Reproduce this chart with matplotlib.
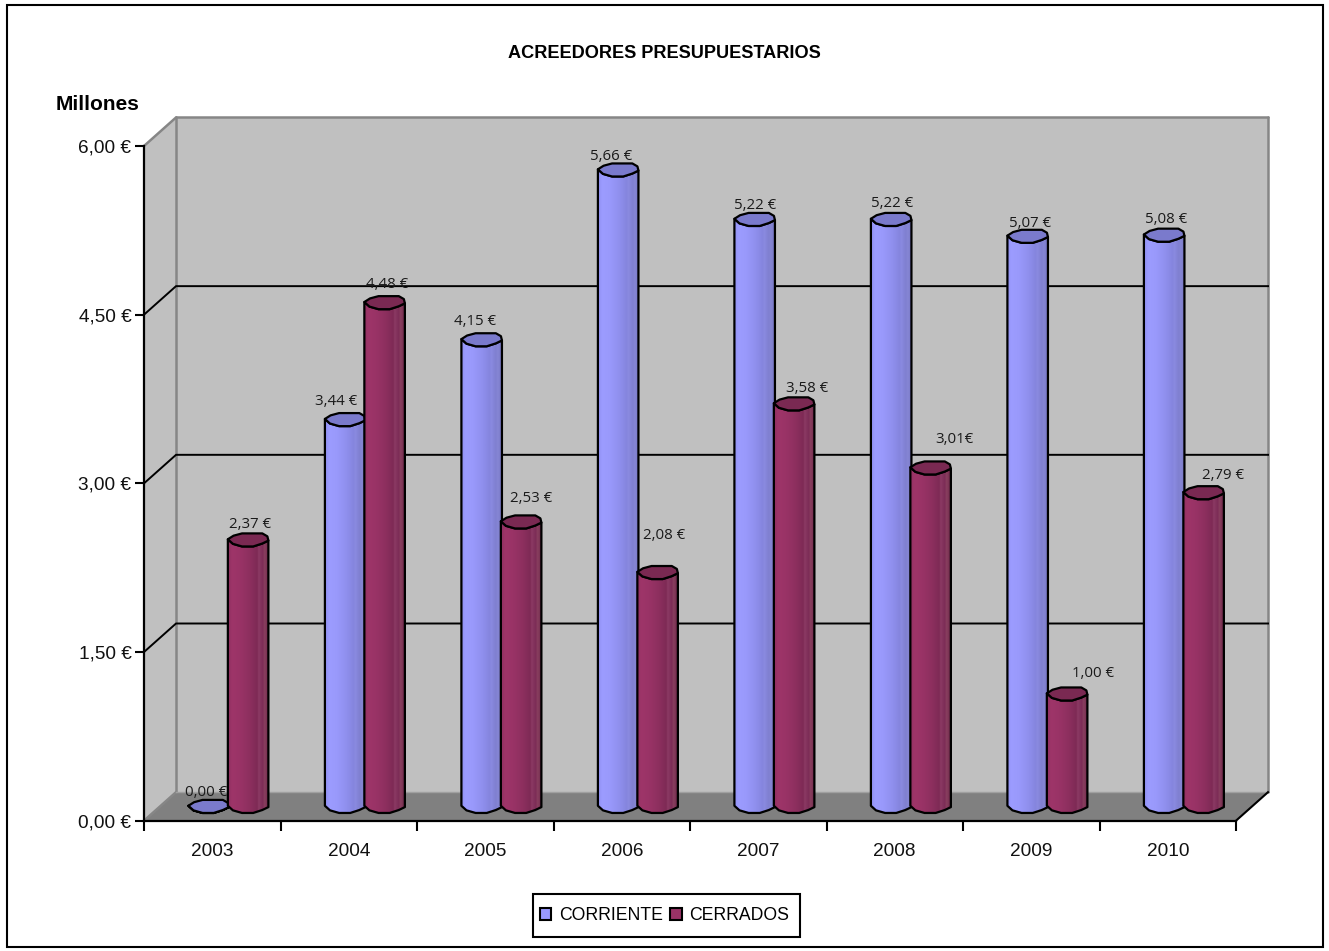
import numpy as np
import matplotlib
matplotlib.use("Agg")
import matplotlib.pyplot as plt
from matplotlib.colors import LinearSegmentedColormap
from matplotlib.patches import Polygon, Patch, Rectangle

years = ["2003", "2004", "2005", "2006", "2007", "2008", "2009", "2010"]
corriente = [0.00, 3.44, 4.15, 5.66, 5.22, 5.22, 5.07, 5.08]
cerrados = [2.37, 4.48, 2.53, 2.08, 3.58, 3.01, 1.00, 2.79]
corriente_labels = ["0,00 €", "3,44 €", "4,15 €", "5,66 €", "5,22 €", "5,22 €", "5,07 €", "5,08 €"]
cerrados_labels = ["2,37 €", "4,48 €", "2,53 €", "2,08 €", "3,58 €", "3,01€", "1,00 €", "2,79 €"]
y_ticks = [0, 1.5, 3, 4.5, 6]
y_tick_labels = ["0,00 €", "1,50 €", "3,00 €", "4,50 €", "6,00 €"]

# label offsets from the bar top, pixels (dx, up)
corriente_off = [(-2, 14), (-8, 18), (-6, 18), (-6, 13), (1, 14), (2, 16), (3, 13), (3, 16)]
cerrados_off = [(2, 15), (2, 18), (10, 23), (6, 37), (13, 15), (23, 28), (26, 20), (19, 17)]

W, H = 1329, 951
plt.rcParams["font.family"] = ["Liberation Sans", "DejaVu Sans"]
fig = plt.figure(figsize=(W / 100, H / 100), dpi=100, facecolor="white")
ax = fig.add_axes([144 / W, 1 - 820.7 / H, (1236 - 144) / W, (820.7 - 146) / H])
n = len(years)
DX, DY = 0.2346, 0.2537      # depth of the 3D box, data units
BW, CAP = 0.297, 0.116       # bar width, cap height
ax.set_xlim(0, n)
ax.set_ylim(0, 6)
ax.patch.set_visible(False)

WALL, FLOOR, EDGE = "#C0C0C0", "#808080", "#868686"
ax.add_patch(Polygon([(DX, DY), (n + DX, DY), (n + DX, 6 + DY), (DX, 6 + DY)], fc=WALL, ec="none", clip_on=False, zorder=0))
ax.add_patch(Polygon([(0, 0), (DX, DY), (DX, 6 + DY), (0, 6)], fc=WALL, ec="none", clip_on=False, zorder=0))
ax.add_patch(Polygon([(0, 0), (n, 0), (n + DX, DY), (DX, DY)], fc=FLOOR, ec="none", clip_on=False, zorder=0))
lw = 1.8
for xs, ys in [([0, DX], [6, 6 + DY]), ([DX, n + DX], [6 + DY, 6 + DY]), ([n + DX, n + DX], [6 + DY, DY]),
               ([DX, DX], [DY, 6 + DY]), ([0, DX], [0, DY])]:
    ax.plot(xs, ys, color=EDGE, lw=lw, clip_on=False, zorder=1, solid_capstyle="round")
ax.plot([DX, n + DX], [DY, DY], color="#A0A0A0", lw=1, clip_on=False, zorder=1)
ax.plot([n, n + DX], [0, DY], color="black", lw=1.5, clip_on=False, zorder=1.5)
for v in y_ticks[1:-1]:
    ax.plot([0, DX, n + DX], [v, v + DY, v + DY], color="black", lw=1.4, clip_on=False, zorder=1)

cmap_blue = LinearSegmentedColormap.from_list("b", [
    (0, "#9090F0"), (0.1, "#9C9CFF"), (0.3, "#9999FB"), (0.55, "#8E8EEC"), (0.7, "#8585DE"),
    (0.75, "#8A8AE0"), (0.85, "#7F7FD0"), (0.9, "#8686D4"), (1, "#7676C4")])
cmap_red = LinearSegmentedColormap.from_list("r", [
    (0, "#8F3060"), (0.1, "#9E3569"), (0.3, "#993366"), (0.55, "#8C2F5E"), (0.72, "#7E2A55"),
    (0.75, "#8C3A64"), (0.85, "#7C2C56"), (0.9, "#89405F"), (1, "#6C2448")])

# coarse rim of a cylinder as in the low-resolution source: unit coordinates
RIM_BACK = [(-0.72, 0.65), (-0.3, 1.0), (0.7, 1.0), (0.95, 0.55)]
RIM_FRONT = [(-1.0, 0.1), (-0.75, -0.6), (-0.3, -1.0), (0.25, -1.0), (0.7, -0.55), (1.0, -0.1)]

def rim(points, xc, yc):
    return np.array([(xc + px * BW / 2, yc + py * CAP / 2) for px, py in points])

def draw_bar(xc, value, cmap, capcolor, z):
    y0 = DY / 2
    y1 = y0 + value
    half = BW / 2
    body = Polygon(np.vstack([rim(RIM_FRONT, xc, y1), rim(RIM_FRONT, xc, y0)[::-1]]), closed=True,
                   fc="none", ec="black", lw=1.6, zorder=z + 0.2, joinstyle="round")
    ax.add_patch(body)
    im = ax.imshow(np.linspace(0, 1, 128)[None, :], cmap=cmap, aspect="auto", interpolation="bilinear",
                   extent=(xc - half, xc + half, y0 - CAP, y1 + CAP), zorder=z + 0.1)
    im.set_clip_path(body)
    top = np.vstack([rim(RIM_FRONT, xc, y1), rim(RIM_BACK, xc, y1)[::-1]])
    ax.add_patch(Polygon(top, closed=True, fc=capcolor, ec="black", lw=1.6, zorder=z + 0.3, joinstyle="round"))

z = 3
for i in range(n):
    c = i + 0.5 + DX / 2
    draw_bar(c - BW / 2 + 0.005, corriente[i], cmap_blue, "#7A7ACC", z)
    draw_bar(c + BW / 2 - 0.003, cerrados[i], cmap_red, "#7A2952", z + 1)
    z += 2

for i in range(n):
    c = i + 0.5 + DX / 2
    for val, lab, off, xb in [(corriente[i], corriente_labels[i], corriente_off[i], c - BW / 2),
                              (cerrados[i], cerrados_labels[i], cerrados_off[i], c + BW / 2)]:
        ax.annotate(lab, xy=(xb, val + DY / 2), xytext=off, textcoords="offset pixels", ha="center", va="center",
                    fontsize=10.8, family="Open Sans", color="#1a1a1a", zorder=50, annotation_clip=False)

ax.set_xlim(0, n)
ax.set_ylim(0, 6)
for s in ("top", "right"):
    ax.spines[s].set_visible(False)
for s in ("left", "bottom"):
    ax.spines[s].set_linewidth(1.6)
    ax.spines[s].set_zorder(2)
ax.set_yticks(y_ticks)
ax.set_yticklabels(y_tick_labels, fontsize=13.7, color="#111111")
ax.set_xticks(range(n + 1))
ax.set_xticklabels([])
ax.set_xticks(np.arange(n) + 0.5, minor=True)
ax.set_xticklabels(years, minor=True, fontsize=13.7, color="#111111")
ax.tick_params(axis="y", length=6.5, width=1.5, pad=2.5)
ax.tick_params(axis="x", which="major", length=7, width=1.5)
ax.tick_params(axis="x", which="minor", length=0, pad=16)

fig.text(664 / W, 1 - 53 / H, "ACREEDORES PRESUPUESTARIOS", ha="center", va="center", fontsize=13.1, fontweight="bold")
fig.text(56 / W, 1 - 104 / H, "Millones", ha="left", va="center", fontsize=15, fontweight="bold")

fig.add_artist(Rectangle((533 / W, 1 - 937 / H), 267 / W, 43 / H, transform=fig.transFigure,
                         fc="white", ec="black", lw=1.5, zorder=5))
leg = fig.legend(handles=[Patch(fc="#9999FF", ec="black", lw=1.5), Patch(fc="#993366", ec="black", lw=1.5)],
                 labels=["CORRIENTE", "CERRADOS"], loc="center", bbox_to_anchor=(664.5 / W, 1 - 915.5 / H),
                 ncol=2, fontsize=12.7, frameon=False,
                 handlelength=0.65, handleheight=0.65, handletextpad=0.42, columnspacing=0.45,
                 borderpad=0.3, borderaxespad=0)
leg.set_zorder(6)

fig.add_artist(Rectangle((6.5 / W, 1 - 947 / H), (1323 - 6.5) / W, (947 - 4.5) / H, transform=fig.transFigure,
                         fc="none", ec="black", lw=1.5))
fig.savefig("out.png", dpi=100)
